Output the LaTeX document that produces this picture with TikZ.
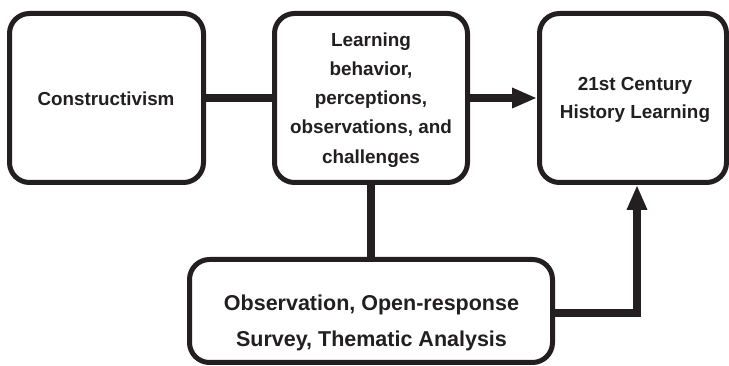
\documentclass[tikz,border=0pt]{standalone}
\usepackage{fontspec}
\setmainfont{Liberation Sans}
\usetikzlibrary{arrows.meta}
\definecolor{ink}{HTML}{231F20}
\begin{document}
\begin{tikzpicture}[x=1pt,y=-1pt,
  box/.style={draw=ink, line width=5pt, rounded corners=20pt, rectangle, inner sep=0pt, fill=white},
  conn/.style={draw=ink, line width=8pt},
  arr/.style={conn, -{Triangle[length=25pt,width=19pt]}, ink},
  lbl/.style={align=center, inner sep=0pt, text=ink}]
\useasboundingbox (0,0) rectangle (729,366);
% boxes
\node[box, minimum width=194pt, minimum height=169pt] (A) at (106.5,98) {};
\node[box, minimum width=193pt, minimum height=169pt] (B) at (371,98) {};
\node[box, minimum width=187pt, minimum height=169pt] (C) at (633,98) {};
\node[box, minimum width=363pt, minimum height=103pt] (D) at (371,311) {};
% texts
\node[lbl, anchor=base, font=\fontsize{18.8}{22}\selectfont\bfseries] (At) at (106,106) {Constructivism};
\node[lbl, font=\fontsize{18.9}{29.1}\selectfont\bfseries] (Bt) at (371,100) {Learning\\behavior,\\perceptions,\\observations, and\\challenges};
\node[lbl, font=\fontsize{18.9}{27.6}\selectfont\bfseries] (Ct) at (635,99.75) {21st Century\\History Learning};
\node[lbl, font=\fontsize{21.5}{36}\selectfont\bfseries] (Dt) at (371.5,323.4) {Observation, Open-response\\Survey, Thematic Analysis};
% connectors
\draw[conn] (A.east) -- (B.west);
\draw[arr] (B.east) -- (C.west);
\draw[conn] (B.south) -- (D.north);
\draw[arr] ([yshift=-2pt]D.east) -| ([xshift=4pt]C.south);
\end{tikzpicture}
\end{document}
